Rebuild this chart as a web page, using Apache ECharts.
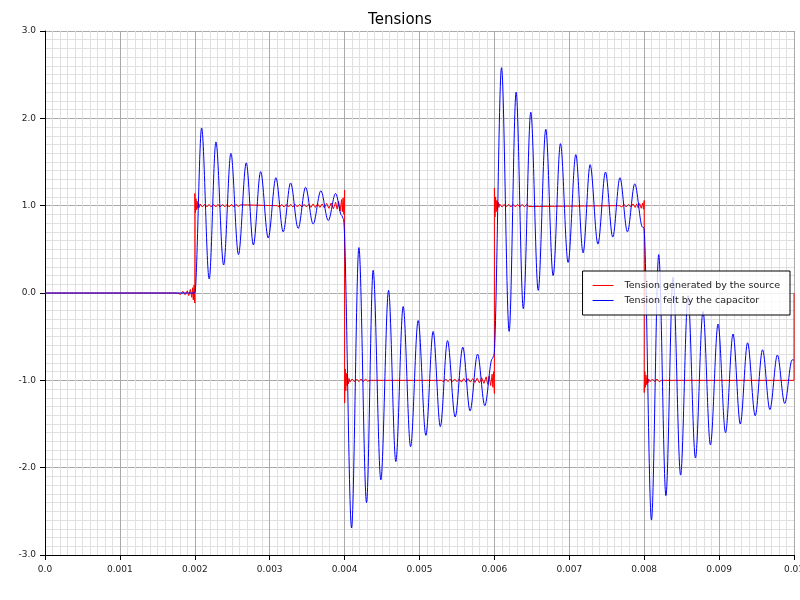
<!DOCTYPE html>
<html>
<head>
<meta charset="utf-8">
<script src="https://cdn.jsdelivr.net/npm/echarts@6/dist/echarts.min.js"></script>
<style>
html, body { margin: 0; padding: 0; background: #fff; }
#main { width: 800px; height: 600px; }
</style>
</head>
<body>
<div id="main"></div>
<script>
// series names (legend)
var seriesNames = ['Tension generated by the source', 'Tension felt by the capacitor'];

// source voltage [t (s), V] - square wave with ringing at the edges
var sourceData = [
  [0,0],[0.00176,0],
  [0.00178,0.015],[0.00181,-0.015],[0.00184,0.02],[0.00187,-0.02],[0.0019,0.025],[0.00192,-0.03],
  [0.00194,0.04],[0.00196,-0.05],[0.00197,0.06],[0.00198,-0.08],[0.00199,0.09],[0.002,-0.115],
  [0.002,1.14],[0.002008,0.92],[0.002016,1.08],[0.002024,0.95],[0.002032,1.05],[0.00204,0.97],
  [0.00205,1.03],[0.00206,0.98],[0.00207,1.02],
  [0.0021,0.985],[0.00213,1.015],[0.00216,0.985],[0.00219,1.015],[0.00222,0.985],[0.00225,1.015],
  [0.00228,0.985],[0.00231,1.015],[0.00234,0.985],[0.00237,1.015],[0.0024,0.985],[0.00243,1.015],
  [0.00246,0.985],[0.00249,1.015],[0.00252,0.985],[0.00255,1.015],[0.00258,0.99],[0.00261,1.01],[0.00263,1],
  [0.0031,1],[0.00313,0.985],[0.00316,1.015],[0.00319,0.985],[0.00322,1.015],[0.00325,0.985],
  [0.00328,1.015],[0.00331,0.985],[0.00334,1.015],[0.00337,0.985],[0.0034,1.015],[0.00343,0.985],
  [0.00346,1.015],[0.00349,0.985],[0.00352,1.015],[0.00355,0.98],[0.00358,1.02],[0.00361,0.98],
  [0.00364,1.02],[0.00367,0.98],[0.0037,1.02],[0.00373,0.975],[0.00376,1.025],[0.00379,0.97],
  [0.00382,1.03],[0.00385,0.965],[0.00388,1.04],[0.0039,0.96],[0.00392,1.05],[0.00394,0.94],
  [0.00396,1.07],[0.00397,0.93],[0.00398,1.09],[0.00399,0.9],[0.004,1.18],
  [0.004,-1.26],[0.004008,-0.87],[0.004016,-1.12],[0.004024,-0.92],[0.004032,-1.06],[0.00404,-0.96],
  [0.00405,-1.04],[0.00406,-0.98],[0.00407,-1.02],
  [0.0041,-0.985],[0.00413,-1.015],[0.00416,-0.985],[0.00419,-1.015],[0.00422,-0.985],[0.00425,-1.015],
  [0.00428,-0.985],[0.00431,-1.01],[0.00434,-1],
  [0.00529,-1],[0.00532,-1.015],[0.00535,-0.985],[0.00538,-1.015],[0.00541,-0.985],[0.00544,-1.015],
  [0.00547,-0.985],[0.0055,-1.015],[0.00553,-0.985],[0.00556,-1.02],[0.00559,-0.98],[0.00562,-1.02],
  [0.00565,-0.98],[0.00568,-1.02],[0.00571,-0.98],[0.00574,-1.025],[0.00577,-0.975],[0.0058,-1.03],
  [0.00583,-0.97],[0.00586,-1.035],[0.00589,-0.96],[0.00591,-1.045],[0.00593,-0.95],[0.00595,-1.06],
  [0.00597,-0.93],[0.00598,-1.08],[0.00599,-0.9],[0.006,-1.15],
  [0.006,1.2],[0.006008,0.87],[0.006016,1.1],[0.006024,0.93],[0.006032,1.06],[0.00604,0.96],
  [0.00605,1.04],[0.00606,0.98],[0.00607,1.02],
  [0.0061,0.985],[0.00613,1.015],[0.00616,0.985],[0.00619,1.015],[0.00622,0.985],[0.00625,1.015],
  [0.00628,0.985],[0.00631,1.015],[0.00634,0.985],[0.00637,1.015],[0.0064,0.985],[0.00643,1.015],
  [0.00646,0.99],[0.00648,1],
  [0.00767,1],[0.0077,0.985],[0.00773,1.015],[0.00776,0.985],[0.00779,1.015],[0.00782,0.985],
  [0.00785,1.02],[0.00788,0.98],[0.0079,1.02],[0.00792,0.975],[0.00794,1.025],[0.00796,0.97],
  [0.00798,1.03],[0.00799,0.96],[0.008,1.06],
  [0.008,-1.14],[0.008008,-0.9],[0.008016,-1.08],[0.008024,-0.94],[0.008032,-1.05],[0.00804,-0.97],
  [0.00805,-1.03],[0.00806,-0.985],[0.00808,-1.015],[0.00811,-0.985],[0.00814,-1.015],[0.00817,-0.985],
  [0.0082,-1.015],[0.00823,-1],
  [0.01,-1],[0.01,0]
];

// capacitor voltage [t (s), V] - peaks and troughs
var capacitorData = [
  [0,0],[0.00198,0],[0.002,0],
  [0.002091,1.89],[0.002192,0.16],[0.002282,1.73],[0.002385,0.32],[0.002482,1.6],[0.002583,0.44],
  [0.002687,1.49],[0.002782,0.55],[0.002879,1.39],[0.00298,0.63],[0.003083,1.32],[0.00318,0.7],
  [0.003279,1.26],[0.00338,0.74],[0.003479,1.21],[0.00358,0.79],[0.003683,1.17],[0.003782,0.83],
  [0.00388,1.14],[0.00396,0.89],[0.003984,0.85],
  [0.004093,-2.69],[0.004191,0.52],[0.004293,-2.4],[0.004381,0.26],[0.004484,-2.14],[0.004587,0.03],
  [0.004684,-1.93],[0.004782,-0.155],[0.004881,-1.76],[0.004982,-0.315],[0.005085,-1.63],[0.005182,-0.44],
  [0.005278,-1.53],[0.005374,-0.545],[0.005476,-1.42],[0.005578,-0.62],[0.005675,-1.35],[0.005775,-0.7],
  [0.005872,-1.29],[0.00597,-0.755],[0.005992,-0.72],
  [0.006095,2.58],[0.006197,-0.44],[0.00629,2.3],[0.006386,-0.18],[0.006486,2.07],[0.006585,0.03],
  [0.006686,1.875],[0.006784,0.2],[0.006882,1.71],[0.006984,0.35],[0.007087,1.585],[0.007184,0.46],
  [0.007278,1.47],[0.007382,0.56],[0.007483,1.385],[0.00758,0.64],[0.007676,1.32],[0.007776,0.7],
  [0.007874,1.25],[0.007977,0.755],[0.007994,0.75],
  [0.008097,-2.6],[0.008194,0.44],[0.00829,-2.32],[0.008385,0.18],[0.008486,-2.085],[0.008585,-0.03],
  [0.008684,-1.89],[0.008785,-0.21],[0.008884,-1.74],[0.008986,-0.355],[0.009086,-1.6],[0.009186,-0.47],
  [0.009283,-1.5],[0.00938,-0.57],[0.009482,-1.405],[0.00958,-0.65],[0.009678,-1.335],[0.009778,-0.71],
  [0.009876,-1.265],[0.009975,-0.765],[0.01,-0.77]
];

// axis ranges / ticks
var xRange = [0, 0.01, 0.001];
var yRange = [-3, 3, 1];

var FONT = 'DejaVu Sans';
var myChart = echarts.init(document.getElementById('main'));

myChart.setOption({
  animation: false,
  backgroundColor: '#fff',
  textStyle: { fontFamily: FONT },
  title: {
    text: 'Tensions',
    left: 'center',
    top: 8,
    textStyle: { fontFamily: FONT, fontSize: 15, fontWeight: 'normal', color: '#000' }
  },
  legend: {
    data: seriesNames,
    orient: 'vertical',
    right: 10,
    top: 271,
    icon: 'rect',
    backgroundColor: 'rgba(255,255,255,0.8)',
    borderColor: '#000',
    borderWidth: 1,
    borderRadius: 0,
    padding: [9, 10, 9, 10],
    itemWidth: 21,
    itemHeight: 1,
    itemGap: 4,
    // small extra gap between the line sample and the text
    formatter: function (name) { return '  ' + name; },
    textStyle: { fontFamily: FONT, fontSize: 9.5, color: '#222', lineHeight: 11 }
  },
  grid: { left: 45, right: 6, top: 31, bottom: 45, outerBoundsMode: 'none', containLabel: false },
  xAxis: {
    type: 'value',
    min: xRange[0], max: xRange[1], interval: xRange[2],
    axisLine: { onZero: false, lineStyle: { color: '#000', width: 1 } },
    axisTick: { show: true, length: 5, lineStyle: { color: '#000' } },
    minorTick: { show: false, splitNumber: 10 },
    axisLabel: {
      fontSize: 9, color: '#222', margin: 10, hideOverlap: false,
      formatter: function (v) { return v === 0 ? '0.0' : String(+v.toFixed(3)); }
    },
    splitLine: { show: true, lineStyle: { color: '#aaa', width: 1 } },
    minorSplitLine: { show: true, lineStyle: { color: '#e0e0e0', width: 1 } }
  },
  yAxis: {
    type: 'value',
    min: yRange[0], max: yRange[1], interval: yRange[2],
    axisLine: { show: true, onZero: false, lineStyle: { color: '#000', width: 1 } },
    axisTick: { show: true, length: 5, lineStyle: { color: '#000' } },
    minorTick: { show: false, splitNumber: 10 },
    axisLabel: {
      fontSize: 9, color: '#222', margin: 9,
      formatter: function (v) { return v.toFixed(1); }
    },
    splitLine: { show: true, lineStyle: { color: '#aaa', width: 1 } },
    minorSplitLine: { show: true, lineStyle: { color: '#e0e0e0', width: 1 } }
  },
  series: [
    {
      name: seriesNames[0],
      type: 'line',
      data: sourceData,
      symbol: 'none',
      color: '#ff0000',
      lineStyle: { color: '#ff0000', width: 1 }
    },
    {
      name: seriesNames[1],
      type: 'line',
      data: capacitorData,
      symbol: 'none',
      smooth: 0.34,
      smoothMonotone: 'x',
      color: '#0000ff',
      lineStyle: { color: '#0000ff', width: 1 }
    }
  ]
});
</script>
</body>
</html>
